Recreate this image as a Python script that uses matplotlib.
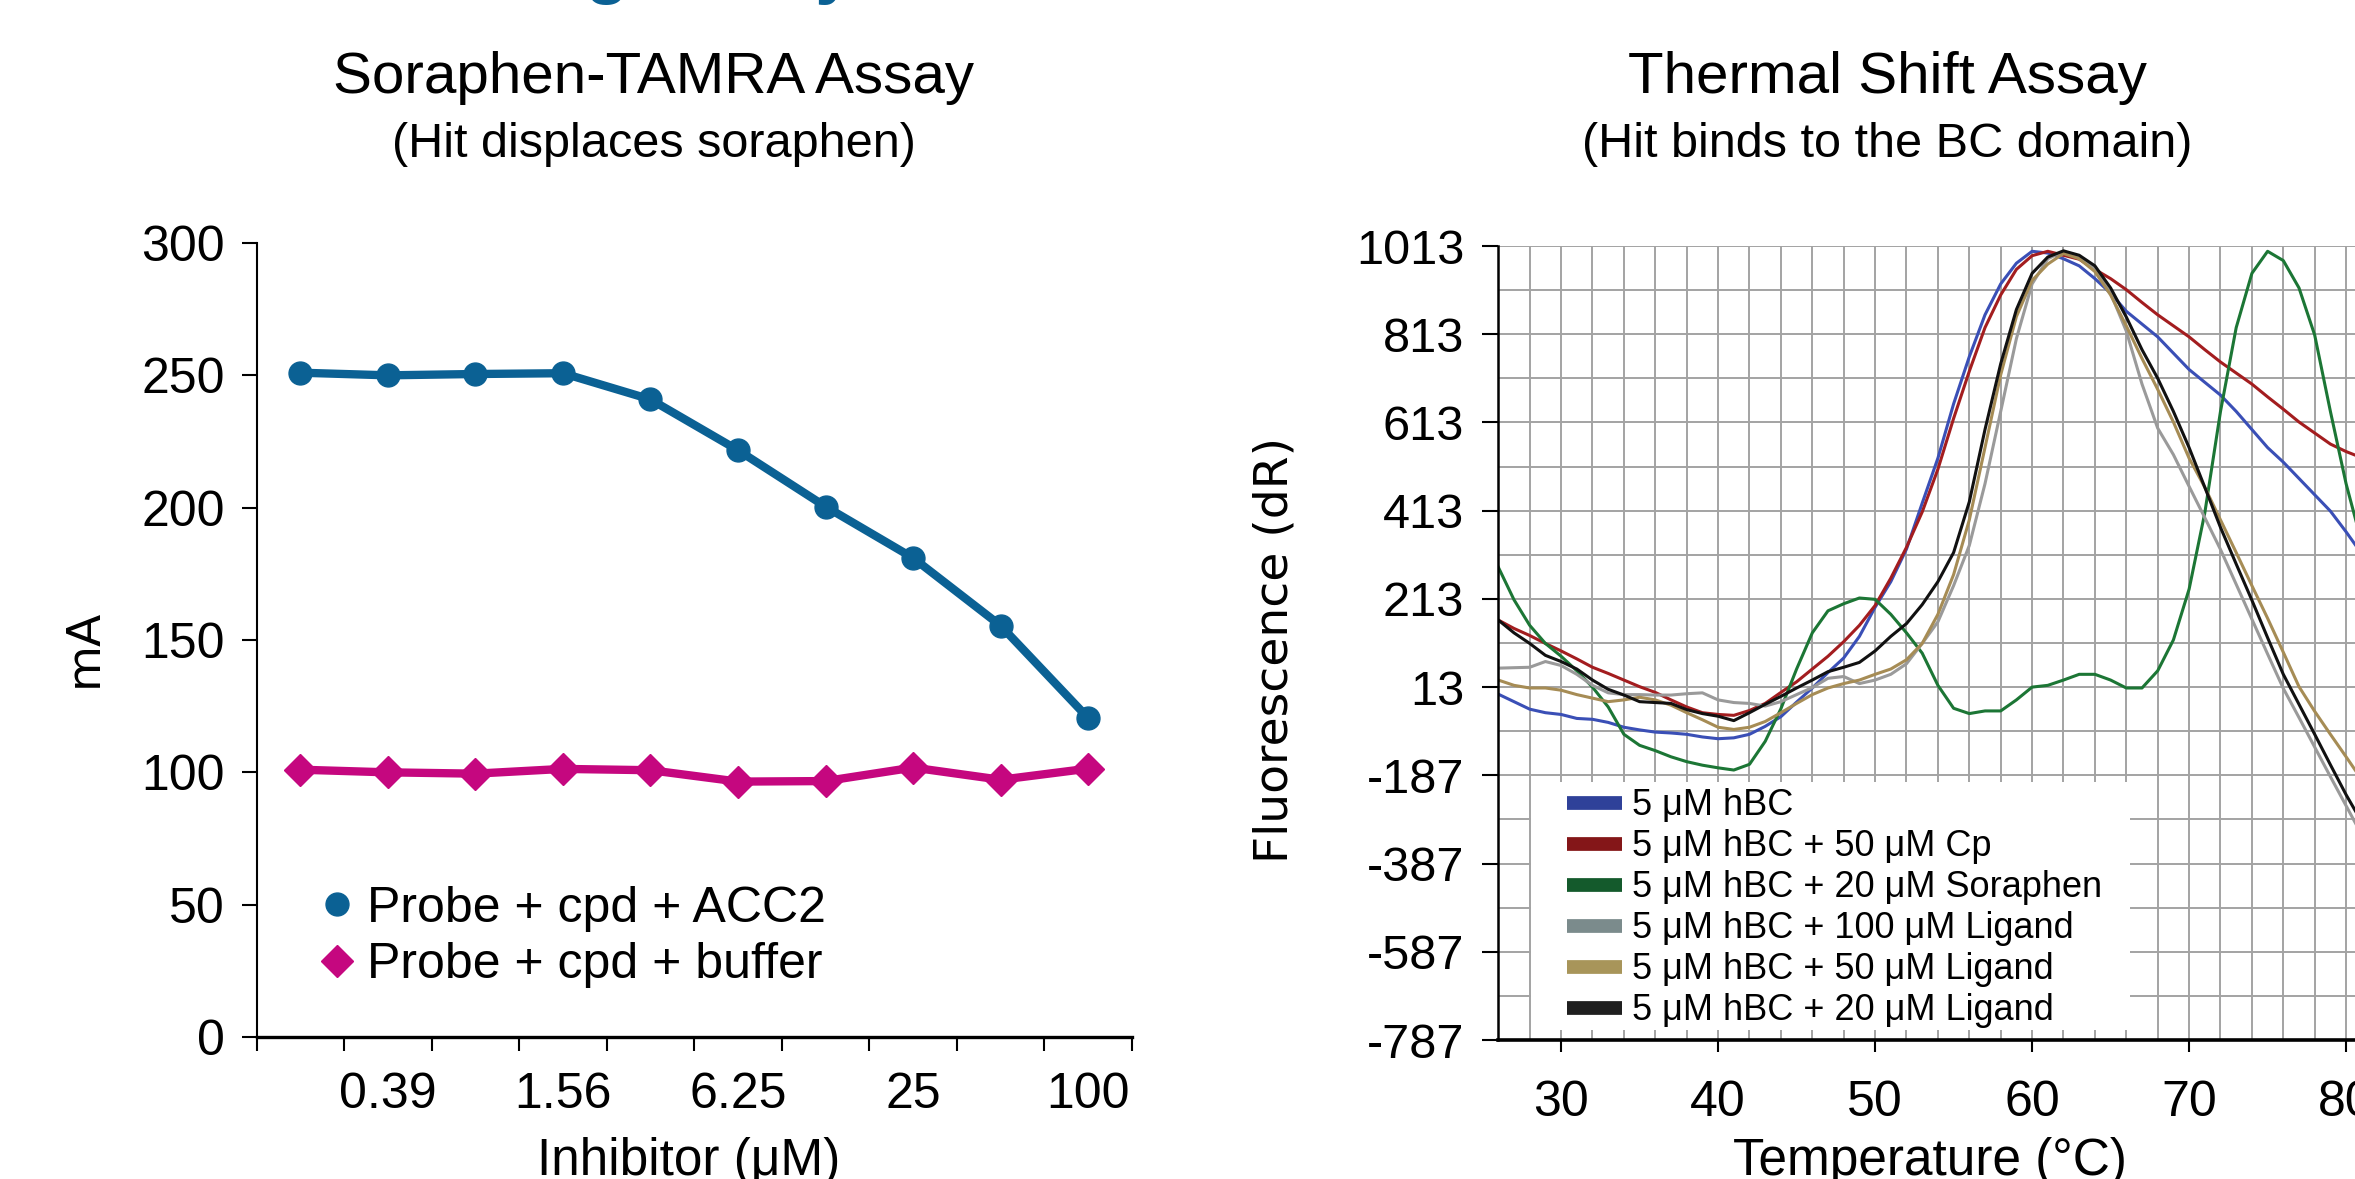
import matplotlib
matplotlib.use("Agg")
import matplotlib.pyplot as plt
import numpy as np
from matplotlib.lines import Line2D
from matplotlib.patches import Rectangle

plt.rcParams['font.family'] = ['Liberation Sans', 'DejaVu Sans']
plt.rcParams['axes.unicode_minus'] = False

# ---------------- data: Soraphen-TAMRA assay ----------------
conc_labels = ["", "0.39", "", "1.56", "", "6.25", "", "25", "", "100"]
probe_acc2 = [251, 250, 250.5, 250.8, 240.9, 221.7, 200.4, 181.0, 155.4, 120.5]
probe_buffer = [101.0, 100.0, 99.5, 101.3, 100.8, 96.5, 96.7, 101.8, 97.2, 101.4]
left_series = ["Probe + cpd + ACC2", "Probe + cpd + buffer"]

# ---------------- data: thermal shift assay ----------------
temperature = list(range(26, 82))
hbc = [-3, -20, -37, -45, -49, -58, -60, -67, -78, -84,
       -89, -91, -94, -100, -104, -102, -94, -76, -54, -21,
       11, 46, 79, 128, 194, 252, 326, 430, 532, 655,
       762, 857, 927, 974, 1001, 997, 984, 968, 939, 906,
       865, 836, 807, 770, 733, 704, 675, 638, 597, 556,
       523, 486, 449, 412, 365, 315]
hbc_cp = [165, 146, 130, 112, 95, 77, 58, 44, 29, 14,
          1, -16, -32, -45, -49, -51, -40, -24, 1, 25,
          54, 83, 116, 153, 198, 260, 330, 410, 507, 622,
          729, 828, 902, 960, 991, 1001, 992, 983, 960, 939,
          914, 885, 857, 832, 807, 778, 750, 725, 700, 671,
          643, 614, 589, 564, 547, 533]
hbc_soraphen = [285, 211, 153, 112, 83, 50, 13, -32, -94, -119,
                -131, -145, -156, -164, -170, -175, -162, -110, -36, 54,
                136, 186, 202, 215, 212, 178, 136, 90, 17, -35,
                -47, -41, -41, -16, 13, 17, 29, 42, 42, 29,
                11, 11, 50, 120, 235, 408, 638, 828, 951, 1001,
                980, 918, 811, 638, 474, 340]
hbc_lig100 = [56, 57, 58, 71, 62, 42, 17, 0, -4, -4,
              -5, -5, -2, 0, -16, -22, -24, -30, -20, -4,
              12, 33, 37, 21, 29, 42, 66, 112, 161, 243,
              334, 474, 638, 803, 927, 984, 1001, 988, 960, 906,
              820, 700, 600, 540, 468, 397, 325, 246, 167, 88,
              10, -56, -123, -190, -256, -322]
hbc_lig50 = [29, 17, 11, 11, 6, -4, -12, -20, -16, -10,
             -16, -28, -45, -61, -78, -83, -78, -65, -45, -24,
             -4, 11, 21, 29, 42, 54, 75, 112, 178, 268,
             392, 556, 721, 853, 935, 972, 996, 984, 955, 902,
             832, 758, 688, 614, 532, 466, 392, 318, 243, 169,
             92, 14, -42, -94, -145, -197]
hbc_lig20 = [165, 136, 112, 85, 71, 54, 29, 8, -5, -20,
             -22, -24, -38, -47, -53, -63, -45, -26, -8, 11,
             29, 48, 58, 69, 95, 128, 157, 200, 252, 318,
             433, 597, 746, 869, 951, 988, 1002, 992, 968, 918,
             852, 778, 713, 638, 556, 466, 375, 292, 210, 125,
             42, -26, -94, -163, -231, -293]
thermal_labels = ["5 \u03bcM hBC", "5 \u03bcM hBC + 50 \u03bcM Cp",
                  "5 \u03bcM hBC + 20 \u03bcM Soraphen", "5 \u03bcM hBC + 100 \u03bcM Ligand",
                  "5 \u03bcM hBC + 50 \u03bcM Ligand", "5 \u03bcM hBC + 20 \u03bcM Ligand"]
thermal_yticks = [-787, -587, -387, -187, 13, 213, 413, 613, 813, 1013]
thermal_xticks = [30, 40, 50, 60, 70, 80]

# ---------------- styling ----------------
BLUE = "#0b6194"
MAGENTA = "#c5077f"
line_colors = ["#3a4fb6", "#a31d1f", "#1c7635", "#9a9a9a", "#a68c55", "#111111"]
legend_colors = ["#2f4199", "#841618", "#145a2c", "#7b8b8c", "#a8955a", "#1f1f1f"]

W, H = 2355, 1179
fig = plt.figure(figsize=(W / 100, H / 100), dpi=100)


def fx(px):
    return px / W


def fy(py):
    return 1 - py / H


# ---------------- left panel ----------------
ax1 = fig.add_axes([fx(256.5), fy(1037), fx(1132) - fx(256.5), fy(243) - fy(1037)])
xi = np.arange(len(probe_acc2))
ax1.plot(xi, probe_acc2, color=BLUE, lw=6, marker='o', ms=16.5, zorder=3, clip_on=False)
ax1.plot(xi, probe_buffer, color=MAGENTA, lw=6, marker='D', ms=16, zorder=3, clip_on=False)
ax1.set_xlim(-0.5, len(probe_acc2) - 0.5)
ax1.set_ylim(0, 300)
ax1.set_yticks(np.arange(0, 301, 50))
ax1.set_xticks(np.arange(-0.5, len(probe_acc2), 1))
ax1.set_xticklabels([])
ax1.set_xticks(xi, minor=True)
ax1.set_xticklabels(conc_labels, minor=True)
for s in ["top", "right"]:
    ax1.spines[s].set_visible(False)
ax1.spines["left"].set_linewidth(1.5)
ax1.spines["bottom"].set_linewidth(2.4)
ax1.tick_params(axis='y', which='major', length=11, width=1.5, pad=12, labelsize=36)
ax1.tick_params(axis='x', which='major', length=10, width=1.5)
ax1.tick_params(axis='x', which='minor', length=0, pad=25, labelsize=36)

h1 = [Line2D([], [], marker='o', color=BLUE, ls='none', ms=16.5),
      Line2D([], [], marker='D', color=MAGENTA, ls='none', ms=16)]
ax1.legend(h1, left_series, loc='center left', bbox_to_anchor=(fx(322), fy(937)),
           bbox_transform=fig.transFigure, frameon=False, fontsize=36,
           handlelength=0.6, handletextpad=0.3, borderpad=0, borderaxespad=0,
           labelspacing=0.22, numpoints=1)

# ---------------- right panel ----------------
ax2 = fig.add_axes([fx(1498.3), fy(1040), (90 - 26) * 15.7 / W, fy(246) - fy(1040)])
series = [hbc, hbc_cp, hbc_soraphen, hbc_lig100, hbc_lig50, hbc_lig20]
for vals, c in zip(series, line_colors):
    ax2.plot(temperature, vals, color=c, lw=2.2, zorder=2)
ax2.set_xlim(26, 90)
ax2.set_ylim(-787, 1013)
ax2.set_yticks(thermal_yticks)
ax2.set_yticks(np.arange(-787, 1014, 100), minor=True)
ax2.set_xticks(thermal_xticks)
ax2.set_xticks(np.arange(28, 90, 2), minor=True)
ax2.set_axisbelow(True)
ax2.grid(which='both', color='#a3a3a3', lw=1.4)
for s in ["top", "right"]:
    ax2.spines[s].set_visible(False)
ax2.spines["left"].set_linewidth(1.8)
ax2.spines["bottom"].set_linewidth(2.6)
ax2.tick_params(which='minor', length=0)
ax2.tick_params(axis='y', which='major', length=11.5, width=1.5, pad=13, labelsize=35)
ax2.tick_params(axis='x', which='major', length=8.6, width=1.5, pad=20, labelsize=36)

ax2.add_patch(Rectangle((fx(1531), fy(1030)), fx(2130) - fx(1531), fy(782) - fy(1030),
                        transform=fig.transFigure, facecolor='white', edgecolor='none',
                        zorder=1.5))
h2 = [Line2D([], [], color=c, lw=9.9, solid_capstyle='butt') for c in legend_colors]
ax2.legend(h2, thermal_labels, loc='upper left', bbox_to_anchor=(fx(1567), fy(788.5)),
           bbox_transform=fig.transFigure, frameon=False, fontsize=26,
           handlelength=1.523, handletextpad=0.28, borderpad=0, borderaxespad=0,
           labelspacing=0.165)

# ---------------- texts ----------------
fig.text(fx(855), 1 + 10 / H, "Binding Assay", ha='right', va='baseline', fontsize=51,
         fontweight='bold', color=BLUE)
fig.text(fx(654), fy(93), "Soraphen-TAMRA Assay", ha='center', va='baseline', fontsize=42)
fig.text(fx(654), fy(157), "(Hit displaces soraphen)", ha='center', va='baseline', fontsize=35)
fig.text(fx(1887), fy(93), "Thermal Shift Assay", ha='center', va='baseline', fontsize=42)
fig.text(fx(1887), fy(157), "(Hit binds to the BC domain)", ha='center', va='baseline', fontsize=35)
fig.text(fx(84), fy(648), "mA", rotation=90, ha='center', va='center',
         family='DejaVu Sans', fontsize=34)
fig.text(fx(1275), fy(650), "Fluorescence (dR)", rotation=90, ha='center', va='center',
         family='DejaVu Sans', fontsize=34)
fig.text(fx(689), fy(1175), "Inhibitor (\u03bcM)", ha='center', va='baseline', fontsize=37)
fig.text(fx(1930), fy(1175), "Temperature (\u00b0C)", ha='center', va='baseline', fontsize=37)

fig.savefig("out.png", dpi=100)
